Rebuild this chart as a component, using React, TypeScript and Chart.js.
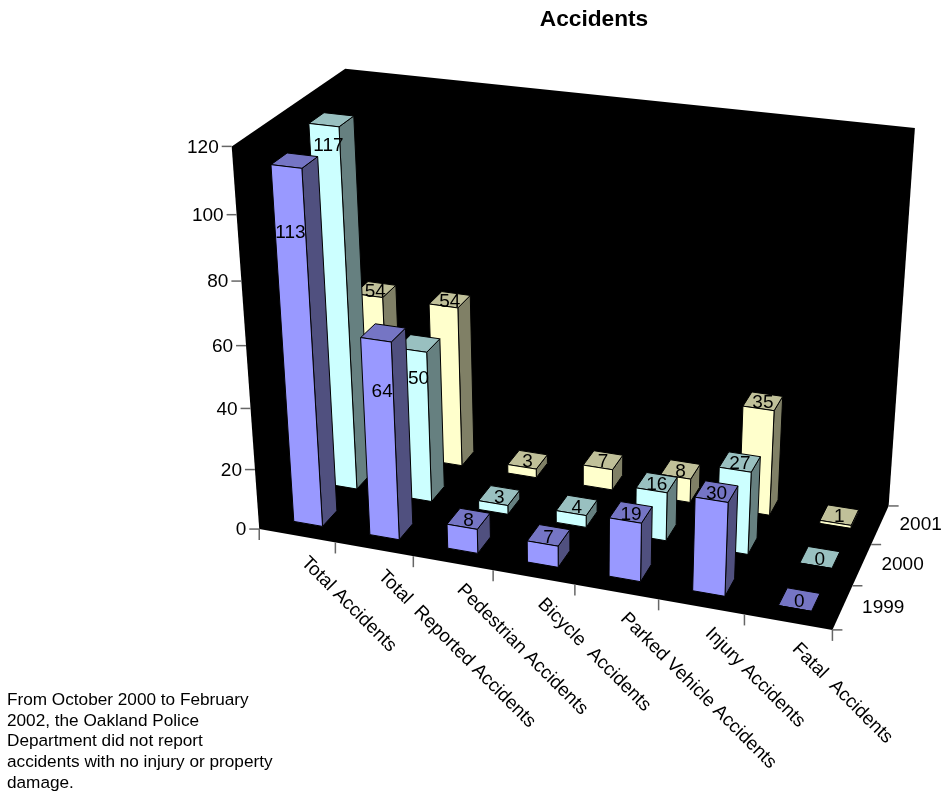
import React, { useEffect, useRef } from "react";
import { Chart, registerables } from "chart.js";

Chart.register(...registerables);

// Accident counts per category and year
const categories = [
  "Total Accidents",
  "Total  Reported Accidents",
  "Pedestrian Accidents",
  "Bicycle  Accidents",
  "Parked Vehicle Accidents",
  "Injury Accidents",
  "Fatal  Accidents",
];
const years = ["1999", "2000", "2001"];
const values1999 = [113, 64, 8, 7, 19, 30, 0];
const values2000 = [117, 50, 3, 4, 16, 27, 0];
const values2001 = [54, 54, 3, 7, 8, 35, 1];
const yTicks = [0, 20, 40, 60, 80, 100, 120];

const footnote = [
  "From October 2000 to February",
  "2002, the Oakland Police",
  "Department did not report",
  "accidents with no injury or property",
  "damage.",
];

const FONT = '"Liberation Sans", Arial, sans-serif';
const VALUE_MAX = 120;

// Face colours per year row: front, top, side
const faces = [
  ["#9999ff", "#7575c4", "#50507f"],
  ["#ccffff", "#99c0c0", "#668080"],
  ["#ffffcc", "#c0c099", "#808066"],
];

// Camera calibration: [category units, value fraction, year units] -> canvas pixels
const cameraPairs: number[][] = [
  [0, 0, 0, 259, 529],
  [1, 0, 0, 336, 543],
  [2, 0, 0, 414, 556],
  [3, 0, 0, 493, 570],
  [4, 0, 0, 575, 585],
  [5, 0, 0, 658, 600],
  [6, 0, 0, 744, 615],
  [7, 0, 0, 832, 629],
  [7, 0, 1, 853, 586],
  [7, 0, 2, 872, 544],
  [7, 0, 3, 888, 506],
  [0, 1 / 6, 0, 255, 469],
  [0, 2 / 6, 0, 250, 408],
  [0, 3 / 6, 0, 246, 346],
  [0, 4 / 6, 0, 241, 281],
  [0, 5 / 6, 0, 237, 215],
  [0, 1, 0, 232, 146],
  [0, 1, 3, 345, 69],
  [7, 1, 3, 915, 128],
];

// Least-squares fit of the 11 projective camera parameters
function solveCamera(pairs: number[][]): number[] {
  const n = 11;
  const A = Array.from({ length: n }, () => new Array(n + 1).fill(0));
  const addRow = (row: number[], rhs: number) => {
    for (let i = 0; i < n; i++) {
      for (let j = 0; j < n; j++) A[i][j] += row[i] * row[j];
      A[i][n] += row[i] * rhs;
    }
  };
  for (const [X, Y, Z, u, v] of pairs) {
    addRow([X, Y, Z, 1, 0, 0, 0, 0, -u * X, -u * Y, -u * Z], u);
    addRow([0, 0, 0, 0, X, Y, Z, 1, -v * X, -v * Y, -v * Z], v);
  }
  for (let c = 0; c < n; c++) {
    let pivot = c;
    for (let r = c + 1; r < n; r++) if (Math.abs(A[r][c]) > Math.abs(A[pivot][c])) pivot = r;
    [A[c], A[pivot]] = [A[pivot], A[c]];
    for (let r = 0; r < n; r++) {
      if (r === c) continue;
      const f = A[r][c] / A[c][c];
      for (let k = c; k <= n; k++) A[r][k] -= f * A[c][k];
    }
  }
  return A.map((row, i) => row[n] / row[i]);
}

const camera = solveCamera(cameraPairs);

function project(X: number, Y: number, Z: number): [number, number] {
  const p = camera;
  const w = p[8] * X + p[9] * Y + p[10] * Z + 1;
  return [(p[0] * X + p[1] * Y + p[2] * Z + p[3]) / w, (p[4] * X + p[5] * Y + p[6] * Z + p[7]) / w];
}

const BAR_HALF_WIDTH = 0.19;
const BAR_CENTER_SHIFT = 0;
const BAR_HALF_DEPTH = 0.205;
const BAR_DEPTH_SHIFT = 0.01;

// Tall bars carry their value label lower down the front face: "row,category" -> pixel shift
const labelShift: Record<string, [number, number]> = {
  "0,0": [-4, 72],
  "0,1": [-1, 59],
  "1,0": [-3, 26],
  "1,1": [0, 35],
};

function polygon(ctx: CanvasRenderingContext2D, pts: [number, number][], fill: string, stroke?: string) {
  ctx.beginPath();
  pts.forEach(([x, y], i) => (i ? ctx.lineTo(x, y) : ctx.moveTo(x, y)));
  ctx.closePath();
  ctx.fillStyle = fill;
  ctx.fill();
  if (stroke) {
    ctx.strokeStyle = stroke;
    ctx.lineWidth = 1;
    ctx.stroke();
  }
}

const perspectiveBars = {
  id: "perspectiveBars",
  beforeDatasetsDraw(chart: any) {
    const ctx: CanvasRenderingContext2D = chart.ctx;
    const { x: xScale, y: yScale, z: zScale } = chart.scales;
    const area = chart.chartArea;
    const nCat = categories.length;
    const nYear = years.length;
    // Turn scale pixels into camera units
    const catUnit = (i: number) => ((xScale.getPixelForValue(i) - area.left) / area.width) * nCat;
    const yearUnit = (i: number) => ((zScale.getPixelForValue(i) - area.left) / area.width) * nYear;
    const valueUnit = (v: number) => (area.bottom - yScale.getPixelForValue(v)) / area.height;

    ctx.save();

    // Walls and floor
    polygon(
      ctx,
      [
        project(0, 0, 0),
        project(0, 1, 0),
        project(0, 1, 3),
        project(7, 1, 3),
        project(7, 0, 3),
        project(7, 0, 0),
      ],
      "#000000"
    );

    // Axis ticks
    ctx.strokeStyle = "#666666";
    ctx.lineWidth = 1.5;
    const tick = (x0: number, y0: number, x1: number, y1: number) => {
      ctx.beginPath();
      ctx.moveTo(x0, y0);
      ctx.lineTo(x1, y1);
      ctx.stroke();
    };
    ctx.fillStyle = "#000000";
    ctx.font = `19px ${FONT}`;

    ctx.textAlign = "right";
    ctx.textBaseline = "middle";
    for (const v of yTicks) {
      const [px, py] = project(0, valueUnit(v), 0);
      tick(px - 10, py, px, py);
      ctx.fillText(String(v), px - 13, py + 1);
    }
    for (let i = 0; i <= nCat; i++) {
      const [px, py] = project(i, 0, 0);
      tick(px, py, px, py + 11);
    }
    for (let i = 0; i <= nYear; i++) {
      const [px, py] = project(7, 0, i);
      tick(px, py, px + 10, py);
    }

    // Year labels beside the floor's right edge
    ctx.textAlign = "left";
    years.forEach((year, i) => {
      const [px, py] = project(7, 0, yearUnit(i));
      ctx.fillText(year, px + 19.5, py);
    });

    // Category labels, slanted below the front edge
    ctx.font = `18.8px ${FONT}`;
    categories.forEach((name, i) => {
      const [px, py] = project(catUnit(i), 0, 0);
      ctx.save();
      ctx.translate(px + 7, py + 24);
      ctx.rotate((45 * Math.PI) / 180);
      ctx.fillText(name, 0, 0);
      ctx.restore();
    });

    // Bars, far row first and left to right inside a row
    for (let row = nYear - 1; row >= 0; row--) {
      const data: number[] = chart.data.datasets[row].data;
      const [front, top, side] = faces[row];
      const zc = yearUnit(row) + BAR_DEPTH_SHIFT;
      data.forEach((value, i) => {
        const xc = catUnit(i) + BAR_CENTER_SHIFT;
        const h = valueUnit(value);
        const x0 = xc - BAR_HALF_WIDTH;
        const x1 = xc + BAR_HALF_WIDTH;
        const z0 = zc - BAR_HALF_DEPTH;
        const z1 = zc + BAR_HALF_DEPTH;
        polygon(ctx, [project(x1, 0, z0), project(x1, h, z0), project(x1, h, z1), project(x1, 0, z1)], side, "#000000");
        polygon(ctx, [project(x0, h, z0), project(x1, h, z0), project(x1, h, z1), project(x0, h, z1)], top, "#000000");
        polygon(ctx, [project(x0, 0, z0), project(x1, 0, z0), project(x1, h, z0), project(x0, h, z0)], front, "#000000");
        const [lx, ly] = project(xc, h, zc);
        const [dx, dy] = labelShift[`${row},${i}`] ?? [0, 2];
        ctx.fillStyle = "#000000";
        ctx.font = `19px ${FONT}`;
        ctx.textAlign = "center";
        ctx.textBaseline = "middle";
        ctx.fillText(String(value), lx + dx, ly + dy);
      });
    }

    // Footnote block
    ctx.textAlign = "left";
    ctx.textBaseline = "middle";
    ctx.font = `17.2px ${FONT}`;
    footnote.forEach((line, i) => ctx.fillText(line, 7, 700.5 + i * 20.6));

    ctx.restore();
    return false;
  },
};

export default function App() {
  const ref = useRef<HTMLCanvasElement>(null);
  useEffect(() => {
    const chart = new Chart(ref.current as HTMLCanvasElement, {
      type: "bar",
      data: {
        labels: categories,
        datasets: [
          { label: years[0], data: values1999 },
          { label: years[1], data: values2000 },
          { label: years[2], data: values2001 },
        ],
      },
      plugins: [perspectiveBars],
      options: {
        responsive: false,
        animation: false,
        layout: { padding: { left: 247 } },
        plugins: {
          legend: { display: false },
          tooltip: { enabled: false },
          title: {
            display: true,
            text: "Accidents",
            color: "#000000",
            font: { family: FONT, size: 22.7, weight: "bold" },
            padding: { top: 6, bottom: 5 },
          },
        },
        scales: {
          x: { type: "category", display: false },
          y: { type: "linear", min: 0, max: VALUE_MAX, display: false },
          z: { type: "category", axis: "x", labels: years, offset: true, display: false },
        },
      } as any,
    });
    return () => chart.destroy();
  }, []);
  return (
    <div style={{ position: "fixed", left: 0, top: 0, width: 941, height: 794, background: "#fff" }}>
      <canvas ref={ref} width={941} height={794} style={{ display: "block" }} />
    </div>
  );
}
